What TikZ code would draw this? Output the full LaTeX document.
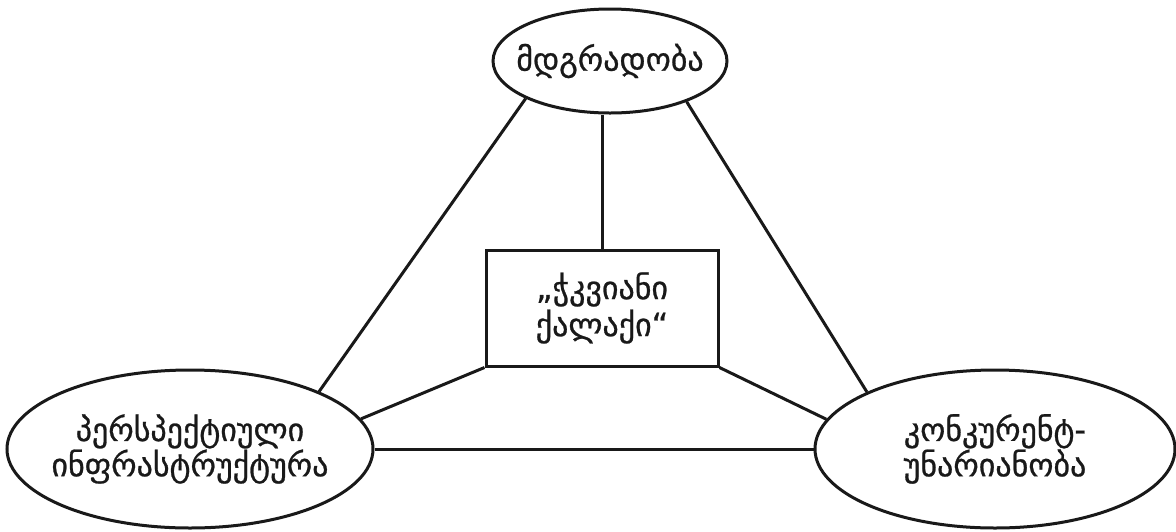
\documentclass[tikz,border=0pt]{standalone}
\usepackage{fontspec}
\setmainfont{DejaVu Sans}
\newfontfamily\gfont{DejaVu Sans}[FakeBold=0.8]
\usetikzlibrary{shapes.geometric}
\begin{document}
\begin{tikzpicture}[x=1pt,y=-1pt,
  conn/.style={line width=3pt,black!90},
  txt/.style={align=center,inner sep=0pt,font=\gfont\fontsize{32}{34}\selectfont,text=black!90},
  ell/.style={draw,line width=3pt,black!90,ellipse,inner sep=0pt},
  box/.style={draw,line width=3pt,black!90,rectangle,inner sep=0pt}]
\useasboundingbox (0,0) rectangle (1176,531);
\node[ell,minimum width=234pt,minimum height=104pt] (top) at (610,61) {};
\node[txt] (topt) at (top) {მდგრადობა};
\node[ell,minimum width=366pt,minimum height=158pt] (left) at (190,449) {};
\node[txt] (leftt) at (left) {პერსპექტიული\\ინფრასტრუქტურა};
\node[ell,minimum width=360pt,minimum height=158pt] (right) at (995,449) {};
\node[txt] (rightt) at (right) {კონკურენტ-\\უნარიანობა};
\node[box,minimum width=232pt,minimum height=116pt] (city) at (602,308) {};
\node[txt,font=\gfont\fontsize{32}{37}\selectfont] (cityt) at (city) {„ჭკვიანი\\ქალაქი“};
\draw[conn] (top.204) -- (left.24);
\draw[conn] (top.332) -- (right.156);
\draw[conn] (city.north |- top.south) -- (city.north);
\draw[conn] (city.south west) -- (left.10);
\draw[conn] (city.south east) -- (right.170);
\draw[conn] (left.east) -- (right.west);
\end{tikzpicture}
\end{document}
